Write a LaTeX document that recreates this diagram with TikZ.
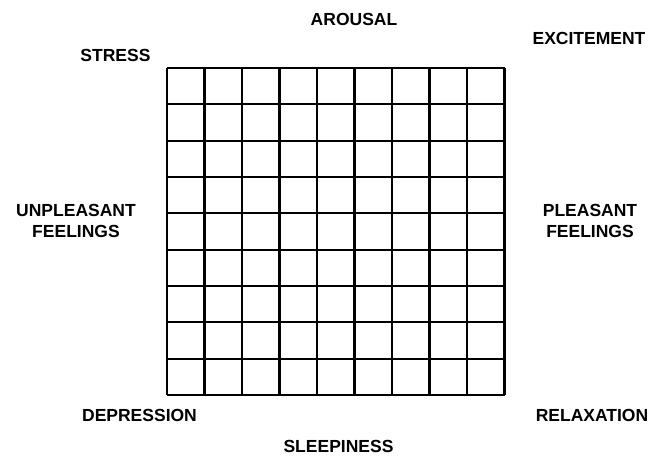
\documentclass[tikz,border=0pt]{standalone}
\usepackage{fontspec}
\setmainfont{Liberation Sans}
\begin{document}
\begin{tikzpicture}[x=1pt,y=-1pt,
  lbl/.style={font=\fontsize{17.5}{21}\selectfont\bfseries, inner sep=0pt},
  lbltwo/.style={lbl, align=center},
  gridline/.style={line width=2.1pt, black}]
\useasboundingbox[fill=white] (0,0) rectangle (653,455);
% grid
\foreach \i in {0,...,9} {
  \draw[gridline] ({167+\i*37.5},68) -- ({167+\i*37.5},395);
  \draw[gridline] (167,{68+\i*327/9}) -- (504.5,{68+\i*327/9});
}
\node[lbl] (arousal) at (354,19) {AROUSAL};
\node[lbl] (stress) at (115.5,55) {STRESS};
\node[lbl] (excite) at (589,38.5) {EXCITEMENT};
\node[lbltwo] (unpl) at (76,220.5) {UNPLEASANT\\FEELINGS};
\node[lbltwo] (pleas) at (590,220.5) {PLEASANT\\FEELINGS};
\node[lbl] (depr) at (139.5,415) {DEPRESSION};
\node[lbl] (relax) at (592,415) {RELAXATION};
\node[lbl] (sleep) at (338.5,446) {SLEEPINESS};
\end{tikzpicture}
\end{document}
